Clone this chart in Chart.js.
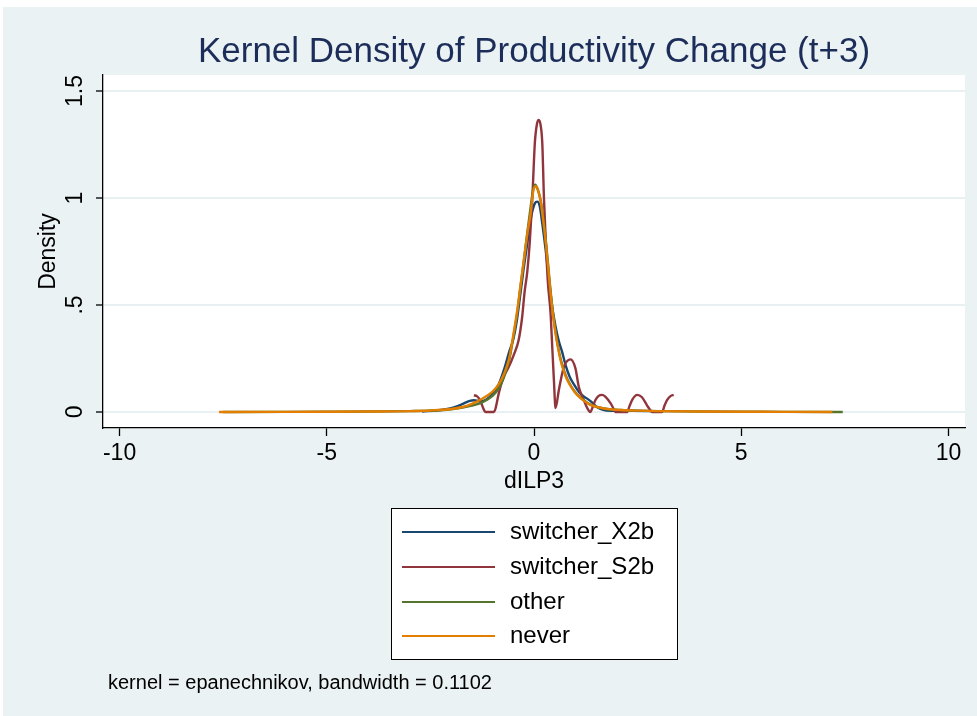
<!DOCTYPE html>
<html><head><meta charset="utf-8">
<script src="https://cdn.jsdelivr.net/npm/chart.js@4/dist/chart.umd.min.js"></script>
<style>html,body{margin:0;padding:0;background:#fff;}canvas{display:block;}</style>
</head><body>
<canvas id="c" width="977" height="716"></canvas>
<script>
const FONT = "'Liberation Sans', Arial, Helvetica, sans-serif";
const chartTitle = "Kernel Density of Productivity Change (t+3)";
const xAxisTitle = "dILP3";
const yAxisTitle = "Density";
const noteText = "kernel = epanechnikov, bandwidth = 0.1102";
const seriesNames = ["switcher_X2b", "switcher_S2b", "other", "never"];
const seriesColors = ["#1a476f", "#90353b", "#55752f", "#e37e00"];
const xTickValues = [-10, -5, 0, 5, 10];
const xTickLabels = ["-10", "-5", "0", "5", "10"];
const yTickValues = [0, 0.5, 1, 1.5];
const yTickLabels = ["0", ".5", "1", "1.5"];

// switcher_X2b
const x_X2b = [-2.7,-2.3,-2.0,-1.75,-1.55,-1.45,-1.3,-1.15,-1.0,-0.85,-0.72,-0.6,-0.5,-0.42,-0.33,-0.25,-0.16,-0.06,0.02,0.08,0.14,0.2,0.28,0.36,0.44,0.52,0.6,0.68,0.76,0.86,0.96,1.08,1.2,1.3,1.4,1.5,1.6,1.75,2.0,2.4,2.8,2.95];
const y_X2b = [0.002,0.008,0.018,0.035,0.052,0.055,0.05,0.058,0.085,0.13,0.2,0.28,0.34,0.42,0.55,0.67,0.79,0.92,0.975,0.983,0.96,0.88,0.76,0.62,0.49,0.40,0.33,0.28,0.22,0.165,0.13,0.095,0.072,0.06,0.045,0.025,0.014,0.007,0.005,0.005,0.004,0.002];
// switcher_S2b
const x_S2b = [-1.45,-1.38,-1.3,-1.23,-1.17,-0.97,-0.93,-0.85,-0.73,-0.61,-0.49,-0.37,-0.285,-0.23,-0.16,-0.1,-0.04,0.02,0.07,0.116,0.16,0.2,0.24,0.28,0.33,0.4,0.44,0.48,0.52,0.6,0.72,0.88,1.0,1.08,1.2,1.28,1.36,1.42,1.48,1.56,1.64,1.72,1.85,1.92,1.97,2.25,2.3,2.38,2.49,2.6,2.73,2.8,2.85,3.09,3.15,3.21,3.3,3.37];
const y_S2b = [0.078,0.074,0.055,0.02,0,0,0.015,0.087,0.165,0.21,0.266,0.336,0.445,0.556,0.66,0.8,1.0,1.256,1.345,1.365,1.34,1.256,1.0,0.82,0.62,0.46,0.305,0.15,0.018,0.103,0.21,0.246,0.204,0.118,0.056,0.02,0,0.025,0.055,0.075,0.08,0.072,0.04,0.015,0,0,0.025,0.06,0.08,0.07,0.03,0.01,0,0,0.03,0.055,0.075,0.08];
// other
const x_other = [-7.5,-6,-5,-4,-3,-2.5,-2,-1.5,-1.25,-1,-0.85,-0.73,-0.6,-0.49,-0.4,-0.33,-0.25,-0.16,-0.08,-0.02,0.03,0.09,0.16,0.22,0.28,0.34,0.4,0.46,0.52,0.58,0.64,0.72,0.8,0.92,1.04,1.2,1.36,1.55,1.77,2.1,2.5,3,4,5,6,7.45];
const y_other = [0,0.0004,0.001,0.002,0.004,0.006,0.012,0.03,0.045,0.075,0.11,0.16,0.24,0.36,0.47,0.58,0.7,0.84,0.96,1.04,1.062,1.04,0.99,0.91,0.81,0.69,0.565,0.46,0.375,0.305,0.25,0.195,0.155,0.112,0.082,0.055,0.034,0.022,0.014,0.009,0.006,0.004,0.002,0.001,0.0005,0];
// never
const x_never = [-7.6,-6,-5,-4,-3,-2.5,-2,-1.75,-1.5,-1.25,-1,-0.85,-0.73,-0.6,-0.49,-0.4,-0.33,-0.25,-0.16,-0.08,-0.02,0.04,0.1,0.16,0.22,0.28,0.34,0.4,0.46,0.52,0.58,0.64,0.72,0.8,0.92,1.04,1.2,1.36,1.55,1.77,2.1,2.5,3,4,5,6,7.2];
const y_never = [0,0.0005,0.001,0.002,0.004,0.007,0.014,0.022,0.038,0.062,0.095,0.13,0.175,0.25,0.37,0.48,0.585,0.7,0.835,0.93,1.03,1.055,1.035,0.985,0.9,0.8,0.68,0.555,0.45,0.365,0.3,0.243,0.19,0.15,0.11,0.08,0.053,0.033,0.022,0.014,0.009,0.006,0.004,0.002,0.001,0.0005,0];

const toPts = (xs, ys) => xs.map((x, i) => ({x: x, y: ys[i]}));
const seriesX = [x_X2b, x_S2b, x_other, x_never];
const seriesY = [y_X2b, y_S2b, y_other, y_never];

const datasets = seriesNames.map((name, i) => ({
  label: name,
  data: toPts(seriesX[i], seriesY[i]),
  borderColor: seriesColors[i],
  backgroundColor: seriesColors[i],
  borderWidth: 2.4,
  pointRadius: 0,
  fill: false,
  cubicInterpolationMode: 'monotone',
  order: 4 - i
}));

const bgPlugin = {
  id: 'bg',
  beforeDraw(chart) {
    const {ctx, chartArea: a} = chart;
    ctx.save();
    ctx.fillStyle = '#ffffff';
    ctx.fillRect(0, 0, chart.width, chart.height);
    ctx.fillStyle = '#EAF2F3';
    ctx.fillRect(3, 7, chart.width - 3, chart.height - 7);
    ctx.fillStyle = '#ffffff';
    ctx.fillRect(a.left, a.top, a.right - a.left, a.bottom - a.top);
    ctx.restore();
  }
};

const textPlugin = {
  id: 'texts',
  afterDraw(chart) {
    const {ctx, chartArea: a} = chart;
    const ys = chart.scales.y;
    ctx.save();
    // title
    ctx.fillStyle = '#1c2d5a';
    ctx.font = "35px " + FONT;
    ctx.textAlign = 'center';
    ctx.textBaseline = 'middle';
    ctx.fillText(chartTitle, (a.left + a.right) / 2, 52);
    // y tick labels, rotated
    ctx.fillStyle = '#000';
    ctx.font = "23px " + FONT;
    yTickValues.forEach((v, i) => {
      const py = ys.getPixelForValue(v);
      ctx.save();
      ctx.translate(76, py);
      ctx.rotate(-Math.PI / 2);
      ctx.textAlign = 'center';
      ctx.textBaseline = 'middle';
      ctx.fillText(yTickLabels[i], 0, 0);
      ctx.restore();
    });
    // legend
    const lx = 391.5, ly = 508.5, lw = 286, lh = 151;
    ctx.fillStyle = '#fff';
    ctx.fillRect(lx, ly, lw, lh);
    ctx.strokeStyle = '#000';
    ctx.lineWidth = 1;
    ctx.strokeRect(lx, ly, lw, lh);
    const rows = [532, 567, 602, 636];
    ctx.font = "24px " + FONT;
    ctx.textAlign = 'left';
    ctx.textBaseline = 'middle';
    chart.data.datasets.forEach((d, i) => {
      ctx.strokeStyle = d.borderColor;
      ctx.lineWidth = 2;
      ctx.beginPath();
      ctx.moveTo(402, rows[i]);
      ctx.lineTo(495, rows[i]);
      ctx.stroke();
      ctx.fillStyle = '#000';
      ctx.fillText(d.label, 510, rows[i]);
    });
    // note
    ctx.font = "20px " + FONT;
    ctx.fillStyle = '#000';
    ctx.fillText(noteText, 108, 683);
    ctx.restore();
  }
};

new Chart(document.getElementById('c'), {
  type: 'line',
  data: {datasets: datasets},
  plugins: [bgPlugin, textPlugin],
  options: {
    responsive: false,
    animation: false,
    events: [],
    layout: {padding: {left: 3, right: 12, top: 75, bottom: 208}},
    plugins: {legend: {display: false}, tooltip: {enabled: false}, title: {display: false}},
    scales: {
      x: {
        type: 'linear',
        min: -10.4, max: 10.4,
        afterFit: s => { s.height = 80; },
        afterBuildTicks: s => { s.ticks = xTickValues.map(v => ({value: v})); },
        grid: {drawOnChartArea: false, drawTicks: true, tickLength: 8, tickColor: '#000', tickWidth: 1.3},
        border: {display: true, color: '#000', width: 1.3},
        ticks: {
          color: '#000', padding: 4, maxRotation: 0, autoSkip: false,
          font: {family: FONT, size: 23},
          callback: v => xTickLabels[xTickValues.indexOf(v)]
        },
        title: {display: true, text: xAxisTitle, color: '#000', font: {family: FONT, size: 23}, padding: {top: 0, bottom: 13}}
      },
      y: {
        type: 'linear',
        min: -0.075, max: 1.575,
        afterFit: s => { s.width = 100; },
        afterBuildTicks: s => { s.ticks = yTickValues.map(v => ({value: v})); },
        grid: {drawOnChartArea: true, color: '#E8F0F2', lineWidth: 2, drawTicks: true, tickLength: 7, tickColor: '#000', tickWidth: 1.3},
        border: {display: true, color: '#000', width: 1.3},
        ticks: {display: false},
        title: {display: true, text: yAxisTitle, color: '#000', font: {family: FONT, size: 23}, padding: {top: 32, bottom: 0}}
      }
    }
  }
});
</script>
</body></html>
